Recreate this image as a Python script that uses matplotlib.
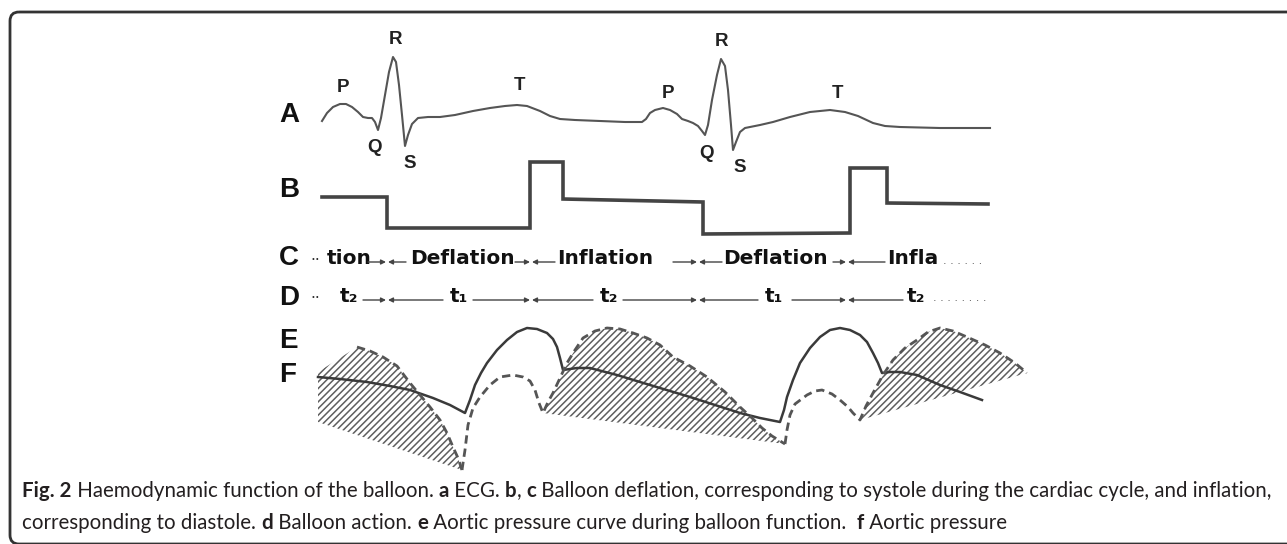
import numpy as np
import matplotlib
matplotlib.use("Agg")
from matplotlib import pyplot as plt
from matplotlib.patches import FancyBboxPatch

# ---- data (in picture units: x = time, y = trace level) ----
# A: ECG trace, two beats
ecg_x = [322, 327, 333, 340, 346, 352, 358, 363, 368, 372, 375, 378, 381, 385, 389, 393,
         396, 399, 402, 405, 408, 412, 418, 428, 440, 455, 473, 490, 505, 517, 527, 540,
         550, 560, 575, 600, 625, 642, 646, 650, 655, 663, 670, 677, 682, 688, 693, 698,
         702, 705, 708, 712, 717, 721, 725, 728, 731, 733, 736, 740, 745, 760, 773, 790,
         810, 830, 845, 858, 873, 885, 900, 940, 990]
ecg_y = [121, 113, 107, 104, 104, 107, 112, 117, 118, 118, 122, 130, 118, 95, 72, 57,
         62, 85, 115, 146, 135, 124, 118, 117, 117, 115, 111, 108, 106, 105, 106, 111,
         116, 119, 120, 121, 122, 122, 119, 113, 110, 108, 110, 114, 119, 121, 123, 126,
         131, 135, 125, 100, 75, 59, 66, 90, 125, 150, 142, 132, 128, 125, 122, 117,
         112, 110, 112, 116, 123, 126, 127, 128, 128]
wave_labels = ["P", "Q", "R", "S", "T", "P", "Q", "R", "S", "T"]
wave_lab_x = [343, 375, 396, 410, 519, 668, 707, 722, 740, 838]
wave_lab_y = [88, 148, 40, 163, 85, 93, 153, 42, 167, 93]

# B: balloon state (square wave)
ball_x = [322, 387, 387, 530, 530, 563, 563, 703, 703, 850, 850, 887, 887, 988]
ball_y = [197, 197, 228, 228, 162, 162, 199, 202, 234, 233, 168, 168, 203, 204]

# C / D: phase boundaries and words
bounds = [387, 531, 698, 847]
c_words = ["tion", "Deflation", "Inflation", "Deflation", "Infla"]
c_word_x = [327, 410, 557, 723, 887]
c_arrow_ends = [(368, 406), (515, 555), (673, 722), (833, 885)]
d_words = ["t\u2082", "t\u2081", "t\u2082", "t\u2081", "t\u2082"]
d_word_x = [340, 450, 600, 765, 907]
d_arrow_ends = [(363, 443), (473, 593), (623, 758), (792, 903)]

# E: aortic pressure with balloon (solid)
aug_x = [318, 340, 367, 390, 410, 433, 450, 465, 470, 475, 481, 487, 497, 507, 517, 527,
         537, 547, 553, 557, 560, 563, 570, 577, 590, 617, 640, 660, 690, 715, 740, 760,
         780, 784, 787, 793, 800, 810, 820, 830, 840, 850, 860, 867, 873, 878, 882, 890,
         900, 917, 940, 960, 982]
aug_y = [377, 379, 382, 386, 390, 398, 405, 413, 400, 385, 373, 363, 350, 340, 332, 328,
         329, 333, 339, 347, 358, 370, 369, 368, 368, 375, 382, 388, 397, 405, 413, 418,
         422, 410, 397, 380, 363, 348, 337, 330, 328, 330, 335, 342, 353, 363, 373, 372,
         372, 375, 385, 392, 400]

# F: aortic pressure without balloon (dashed), three pieces
ao1_x = [357, 370, 383, 397, 410, 420, 430, 440, 447, 453, 458, 462]
ao1_y = [347, 351, 357, 366, 383, 395, 407, 420, 433, 447, 458, 470]
ao2_x = [462, 465, 468, 473, 480, 490, 500, 513, 523, 530, 535, 539, 543, 548, 553, 560,
         567, 575, 583, 595, 607, 620, 633, 647, 660, 673, 690, 707, 725, 740, 752, 762,
         772, 785]
ao2_y = [470, 450, 425, 408, 397, 385, 377, 375, 377, 381, 390, 403, 413, 402, 393, 378,
         363, 350, 338, 331, 328, 329, 333, 338, 345, 357, 366, 377, 392, 407, 418, 428,
         436, 444]
ao3_x = [785, 787, 790, 795, 807, 815, 822, 832, 840, 848, 853, 860, 866, 873, 883, 893,
         905, 917, 928, 940, 953, 967, 985, 1000, 1015, 1027]
ao3_y = [444, 430, 415, 404, 395, 391, 390, 394, 400, 407, 413, 420, 406, 393, 375, 360,
         348, 340, 332, 328, 331, 337, 345, 353, 363, 373]

row_letters = ["A", "B", "C", "D", "E", "F"]
row_y = [115, 190, 258, 298, 341, 375]

# caption runs: (text, bold)
caption1 = [("Fig. 2", True), (" Haemodynamic function of the balloon. ", False),
            ("a", True), (" ECG. ", False), ("b", True), (", ", False), ("c", True),
            (" Balloon deflation, corresponding to systole during the cardiac cycle, and inflation,", False)]
caption2 = [("corresponding to diastole. ", False), ("d", True), (" Balloon action. ", False),
            ("e", True), (" Aortic pressure curve during balloon function.  ", False),
            ("f", True), (" Aortic pressure", False)]

plt.rcParams['hatch.linewidth'] = 1.1

fig = plt.figure(figsize=(12.87, 5.44), dpi=100)
ax = fig.add_axes([0, 0, 1, 1])
ax.set_xlim(0, 1287)
ax.set_ylim(544, 0)
ax.axis('off')
renderer = fig.canvas.get_renderer()

# frame round the figure
ax.add_patch(FancyBboxPatch((10, 12), 1300, 532, boxstyle="round,pad=0,rounding_size=9",
                            fill=False, lw=2, ec='#333333', clip_on=False))

# row letters
for lab, y in zip(row_letters, row_y):
    ax.text(279, y, lab, fontsize=20, fontweight='bold', family='Liberation Sans',
            va='center', ha='left', color='#111111')

# A: ECG
ax.plot(ecg_x, ecg_y, color='#555555', lw=1.5, solid_joinstyle='round')
for lab, x, y in zip(wave_labels, wave_lab_x, wave_lab_y):
    ax.text(x, y, lab, fontsize=13.5, fontweight='bold', family='Liberation Sans',
            ha='center', va='center', color='#222222')

# B: balloon square wave
ax.plot(ball_x, ball_y, color='#444444', lw=2.6, solid_joinstyle='miter')

# C / D: balloon action words with converging arrows
arrow_kw = dict(arrowstyle='-|>', color='#444444', lw=1.0, mutation_scale=7,
                shrinkA=0, shrinkB=0)
def phase_row(y, words, xs, ends, size, dots_y):
    for w, x in zip(words, xs):
        ax.text(x, y, w, fontsize=size, fontweight='bold', family='DejaVu Sans',
                ha='left', va='center', color='#111111')
    for b, (a0, a1) in zip(bounds, ends):
        ax.annotate('', xy=(b - 1, dots_y), xytext=(a0, dots_y), arrowprops=arrow_kw)
        ax.annotate('', xy=(b + 1, dots_y), xytext=(a1, dots_y), arrowprops=arrow_kw)
    ax.text(310, dots_y - 2, "\u00b7\u00b7", fontsize=11, ha='left', va='center', color='#333333')

phase_row(259, c_words, c_word_x, c_arrow_ends, 14.5, 262)
ax.text(943, 264, "\u00b7 \u00b7 \u00b7 \u00b7 \u00b7 \u00b7", fontsize=8, ha='left',
        va='center', color='#555555')
phase_row(297, d_words, d_word_x, d_arrow_ends, 14.5, 300)
ax.text(933, 301, "\u00b7 \u00b7 \u00b7 \u00b7 \u00b7 \u00b7 \u00b7 \u00b7", fontsize=8,
        ha='left', va='center', color='#555555')

# E/F: hatched areas under the unassisted pressure curve
hatch_kw = dict(facecolor='none', edgecolor='#5e5e5e', hatch='/////', lw=0)
ax.fill([318] + ao1_x + [318], [372] + ao1_y + [422], **hatch_kw)
ax.fill(ao2_x[12:], ao2_y[12:], **hatch_kw)
ax.fill(ao3_x[11:], ao3_y[11:], **hatch_kw)

ax.plot(aug_x, aug_y, color='#3a3a3a', lw=1.8, solid_joinstyle='round')
for xs, ys in [(ao1_x, ao1_y), (ao2_x, ao2_y), (ao3_x, ao3_y)]:
    ax.plot(xs, ys, color='#555555', lw=2.0, linestyle=(0, (3, 1.8)))

# caption, bold and plain runs placed one after another
def run_width(s, bold, size):
    kw = dict(fontsize=size, family='Lato', fontweight='bold' if bold else 'normal')
    t1 = ax.text(0, 0, '|' + s + '|', **kw)
    t2 = ax.text(0, 0, '||', **kw)
    w = t1.get_window_extent(renderer).width - t2.get_window_extent(renderer).width
    t1.remove(); t2.remove()
    return w

def draw_runs(x, y, runs, size):
    for s, bold in runs:
        ax.text(x, y, s, fontsize=size, family='Lato', fontweight='bold' if bold else 'normal',
                color='#231f20', ha='left', va='baseline')
        x += run_width(s, bold, size)

base = sum(run_width(s, b, 10) for s, b in caption1)
cap_size = 10 * 1250 / base
draw_runs(22, 497, caption1, cap_size)
draw_runs(22, 529, caption2, cap_size)

fig.savefig('out.png', dpi=100)
